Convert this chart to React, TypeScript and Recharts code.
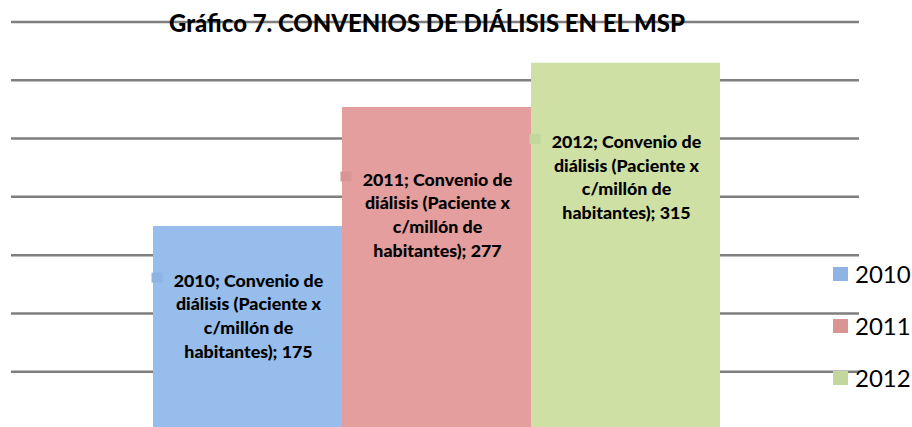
import React from 'react';
import { BarChart, Bar, XAxis, YAxis, CartesianGrid, LabelList, Legend } from 'recharts';

const categories = ['Convenio de diálisis (Paciente x c/millón de habitantes)'];
const years = ['2010', '2011', '2012'];
const values2010 = [175];
const values2011 = [277];
const values2012 = [315];
const yTicks = [0, 50, 100, 150, 200, 250, 300, 350];
const titleText = 'Gráfico 7. CONVENIOS DE DIÁLISIS EN EL MSP';
const labelLines = ['Convenio de', 'diálisis (Paciente x', 'c/millón de', 'habitantes)'];

const barColors = ['#96BDEB', '#E49E9D', '#CFE0A5'];
const keyColors = ['#8EB4E3', '#D99594', '#C3D69B'];

const data = categories.map((c, i) => ({
  name: c,
  y2010: values2010[i],
  y2011: values2011[i],
  y2012: values2012[i],
}));

const FONT = 'Lato, "Open Sans", sans-serif';

const makeLabel = (year: string, keyColor: string) => (props: any) => {
  const { x, y, width, height, value } = props;
  const cx = Number(x) + Number(width) / 2;
  const base = Number(y) + 0.15 * Number(height) + 30;
  const lh = 23.8;
  const lines = [
    `${year}; ${labelLines[0]}`,
    labelLines[1],
    labelLines[2],
    `${labelLines[3]}; ${value}`,
  ];
  return (
    <g>
      <rect x={cx - 96} y={base - 14} width={11} height={10} fill={keyColor} />
      {lines.map((t, i) => (
        <text
          key={i}
          x={cx + 1}
          y={base + i * lh}
          textAnchor="middle"
          fontFamily={FONT}
          fontWeight={900}
          fontSize={17.8}
          fill="#000"
        >
          {t}
        </text>
      ))}
    </g>
  );
};

const renderLegend = () => (
  <div style={{ fontFamily: FONT }}>
    {years.map((yr, i) => (
      <div key={yr} style={{ display: 'flex', alignItems: 'center', height: 52 }}>
        <div style={{ width: 15, height: 14, background: keyColors[i], marginRight: 7 }} />
        <span style={{ fontSize: 24, lineHeight: '52px', color: '#000' }}>{yr}</span>
      </div>
    ))}
  </div>
);

export default function App() {
  return (
    <div style={{ position: 'absolute', left: 0, top: 0, width: 912, height: 427, overflow: 'hidden', background: '#fff' }}>
      <BarChart
        width={912}
        height={450}
        data={data}
        margin={{ top: 22, left: 11, right: 53, bottom: 20 }}
        barGap={0}
        barSize={189}
      >
        <CartesianGrid vertical={false} stroke="#7f7f7f" strokeWidth={2.5} />
        <XAxis dataKey="name" hide padding={{ left: 2, right: 0 }} />
        <YAxis hide domain={[0, 350]} ticks={yTicks} />
        <Legend
          layout="vertical"
          align="center"
          verticalAlign="middle"
          content={renderLegend}
          wrapperStyle={{ position: 'absolute', left: 833, top: 248, width: 80 }}
        />
        <Bar dataKey="y2010" name={years[0]} fill={barColors[0]} isAnimationActive={false}>
          <LabelList dataKey="y2010" content={makeLabel(years[0], keyColors[0])} />
        </Bar>
        <Bar dataKey="y2011" name={years[1]} fill={barColors[1]} isAnimationActive={false}>
          <LabelList dataKey="y2011" content={makeLabel(years[1], keyColors[1])} />
        </Bar>
        <Bar dataKey="y2012" name={years[2]} fill={barColors[2]} isAnimationActive={false}>
          <LabelList dataKey="y2012" content={makeLabel(years[2], keyColors[2])} />
        </Bar>
      </BarChart>
      <svg width={912} height={60} style={{ position: 'absolute', left: 0, top: 0, pointerEvents: 'none' }}>
        <text
          x={427}
          y={32}
          textAnchor="middle"
          fontFamily={FONT}
          fontWeight={900}
          fontSize={24}
          textLength={516}
          lengthAdjust="spacingAndGlyphs"
          fill="#000"
        >
          {titleText}
        </text>
      </svg>
    </div>
  );
}
